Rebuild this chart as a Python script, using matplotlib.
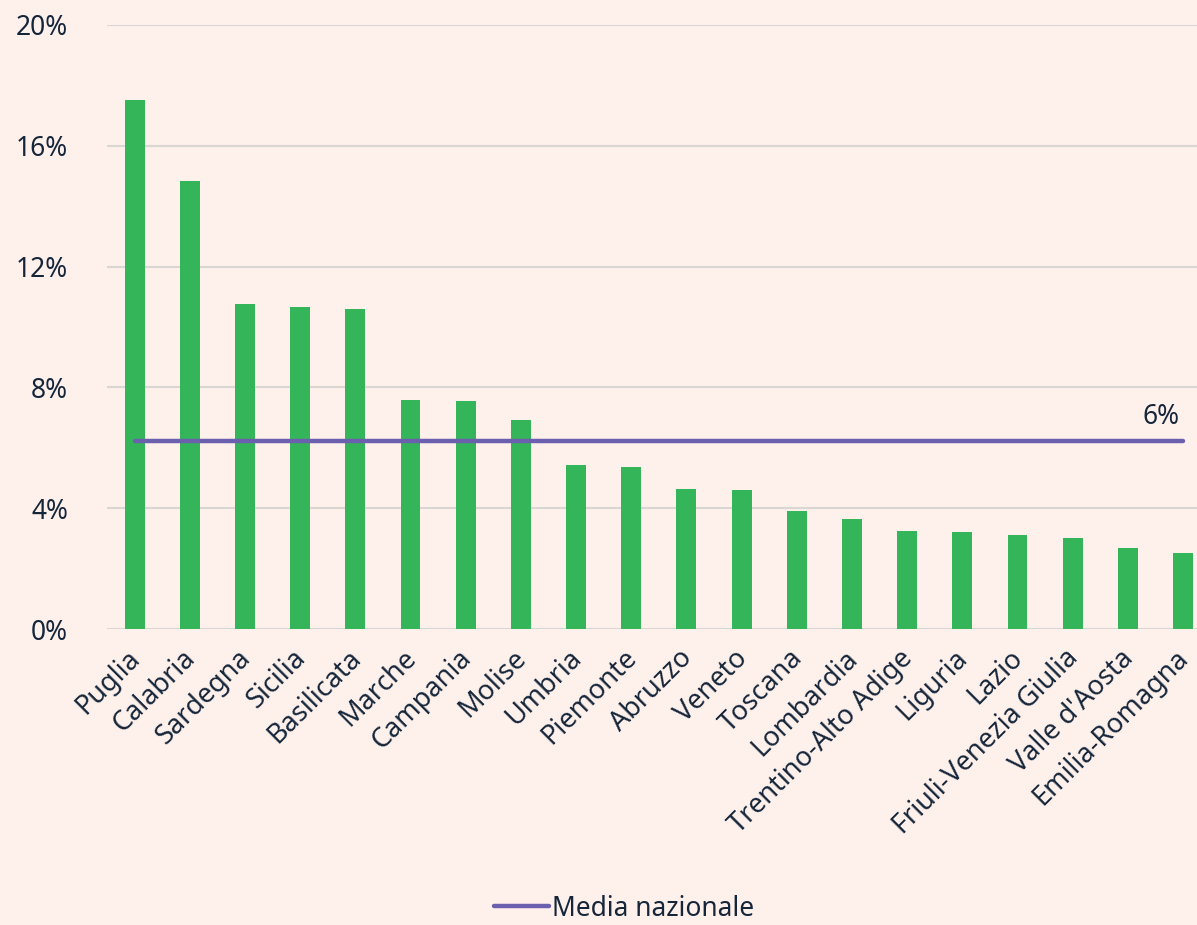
import numpy as np
import matplotlib
matplotlib.use("Agg")
import matplotlib.pyplot as plt
import matplotlib.transforms as mtransforms
from matplotlib.ticker import FuncFormatter

regioni = ["Puglia", "Calabria", "Sardegna", "Sicilia", "Basilicata", "Marche", "Campania",
           "Molise", "Umbria", "Piemonte", "Abruzzo", "Veneto", "Toscana", "Lombardia",
           "Trentino-Alto Adige", "Liguria", "Lazio", "Friuli-Venezia Giulia",
           "Valle d'Aosta", "Emilia-Romagna"]
valori = [17.5, 14.85, 10.76, 10.66, 10.58, 7.58, 7.55, 6.92, 5.43, 5.36,
          4.64, 4.60, 3.91, 3.65, 3.25, 3.21, 3.12, 3.01, 2.68, 2.52]
media_nazionale = 6.23

sfondo = "#FEF0EB"
testo = "#15263A"

plt.rcParams['font.family'] = ['Noto Sans', 'DejaVu Sans']

fig = plt.figure(figsize=(11.97, 9.25), dpi=100, facecolor=sfondo)
ax = fig.add_axes([0.0894, 0.32, 0.922, 0.653])
ax.set_facecolor(sfondo)

x = np.arange(len(regioni))
ax.bar(x, valori, width=0.36, color="#35B559", zorder=3)
ax.plot([x[0], x[-1]], [media_nazionale] * 2, color="#6B60AE", lw=3.2,
        solid_capstyle="round", zorder=4, label="Media nazionale")
ax.text(x[-1] - 0.07, media_nazionale + 0.33, "6%", ha="right", va="bottom",
        fontsize=19, color=testo)

ax.set_xlim(-0.5, len(regioni) - 0.5)
ax.set_ylim(0, 20)
ax.set_yticks([0, 4, 8, 12, 16, 20])
ax.yaxis.set_major_formatter(FuncFormatter(lambda v, p: f"{v:.0f}%"))
ax.grid(axis="y", color="#D9D6D3", lw=1.5, zorder=0)
for s in ax.spines.values():
    s.set_visible(False)
ax.tick_params(axis="both", length=0, colors=testo, labelsize=19)
ax.tick_params(axis="y", pad=28)
ax.set_xticks(x)
ax.set_xticklabels(regioni, rotation=45, ha="right", rotation_mode="anchor", fontsize=19.5)
ax.tick_params(axis="x", pad=11)
sposta = mtransforms.ScaledTranslation(-6 / 72, 0, fig.dpi_scale_trans)
for lab in ax.get_xticklabels():
    lab.set_transform(lab.get_transform() + sposta)

fig.legend(loc="lower center", bbox_to_anchor=(0.521, -0.023), frameon=False,
           fontsize=19, handlelength=2.1, handletextpad=0.1, labelcolor=testo)

fig.savefig("out.png", dpi=100, facecolor=sfondo)
